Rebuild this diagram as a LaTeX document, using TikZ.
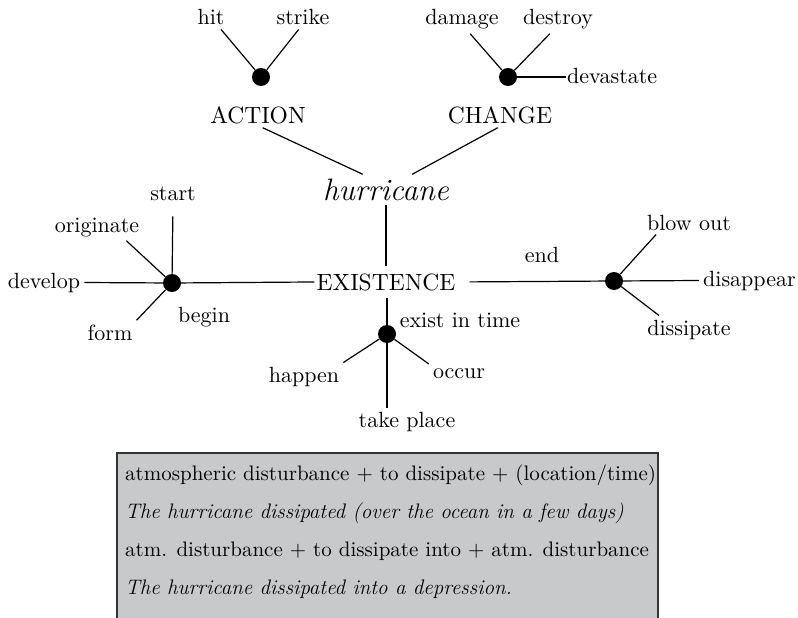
\documentclass[tikz,border=0pt]{standalone}
\usepackage{fontspec}
\setmainfont{lmroman10-regular.otf}[ItalicFont=lmroman12-italic.otf]
\usepackage{xcolor}
\usepackage{tikz}
\definecolor{boxgray}{RGB}{200,201,203}

\tikzset{
  word/.style={font=\fontsize{22}{26}\selectfont, inner sep=4pt, anchor=base},
  sensebox/.style={font=\fontsize{23.5}{28}\selectfont, inner sep=4pt, anchor=base},
  hub/.style={circle, fill=black, inner sep=0pt, minimum size=18pt},
  link/.style={line width=1.2pt},
  boxline/.style={font=\fontsize{21}{25}\selectfont, anchor=base west, inner sep=0pt},
  boxitalic/.style={font=\fontsize{21}{25}\selectfont\itshape, anchor=base west, inner sep=0pt},
}

\begin{document}
\begin{tikzpicture}[x=1pt, y=-1pt]
\useasboundingbox (0,0) rectangle (798,618);
% example box
\fill[boxgray] (117,453) rectangle (658,625);
\draw[line width=1.3pt, black!80] (117,625) -- (117,453) -- (658,453) -- (658,625);
\node[boxline] (rule1) at (125,480) {atmospheric disturbance + to dissipate + (location/time)};
\node[boxitalic] (ex1) at (125,518) {The hurricane dissipated (over the ocean in a few days)};
\node[boxline] (rule2) at (125,556) {atm. disturbance + to dissipate into + atm. disturbance};
\node[boxitalic] (ex2) at (125,594) {The hurricane dissipated into a depression.};

% hubs
\node[hub] (actdot) at (261,77) {};
\node[hub] (chdot) at (508,77) {};
\node[hub] (begdot) at (172,283) {};
\node[hub] (exdot) at (387,334) {};
\node[hub] (enddot) at (614,281) {};

% words
\node[word] (hit) at (211,25) {hit};
\node[word] (strike) at (303,25) {strike};
\node[word] (damage) at (462,25) {damage};
\node[word] (destroy) at (558,25) {destroy};
\node[word, anchor=base west, inner xsep=1pt] (devastate) at (566,84) {devastate};
\node[sensebox] (action) at (258,123) {ACTION};
\node[sensebox] (change) at (500,123) {CHANGE};
\node[font=\fontsize{31}{35}\selectfont\itshape, inner sep=4pt, anchor=base] (hurricane) at (386,200) {hurricane};
\node[sensebox, inner xsep=2pt, inner ysep=7pt] (existence) at (386,290) {EXISTENCE};
\node[word] (start) at (173,200) {start};
\node[word] (originate) at (97,232) {originate};
\node[word] (develop) at (44,288) {develop};
\node[word] (form) at (110,340) {form};
\node[word] (beginlbl) at (204,322) {begin};
\node[word] (endlbl) at (542,262) {end};
\node[word] (blowout) at (689,230) {blow out};
\node[word, anchor=base west] (disappear) at (699,286) {disappear};
\node[word] (dissipate) at (689,335) {dissipate};
\node[word] (existlbl) at (460,327) {exist in time};
\node[word] (occur) at (459,378) {occur};
\node[word] (happen) at (304,382) {happen};
\node[word] (takeplace) at (407,427) {take place};

% links
\draw[link] (actdot) -- (hit.-50);
\draw[link] (actdot) -- (strike.-110);
\draw[link] (chdot) -- (damage.-60);
\draw[link] (chdot) -- (destroy.-120);
\draw[link] (chdot) -- (chdot -| devastate.west);
\draw[link] (action.-70) -- (hurricane.147);
\draw[link] (change.-100) -- (hurricane.30);
\draw[link] (hurricane.south) -- (existence.north);
\draw[link] (begdot) -- (existence.west);
\draw[link, shorten <=12pt] (existence.east) -- (enddot);
\draw[link] (exdot |- existence.south) -- (exdot);
\draw[link, shorten >=12pt] (begdot) -- (start.south);
\draw[link] (begdot) -- (originate.-25);
\draw[link] (begdot) -- (develop.east);
\draw[link] (begdot) -- (form.north east);
\draw[link] (exdot) -- (happen.north east);
\draw[link] (exdot) -- (exdot |- takeplace.north);
\draw[link] (exdot) -- (occur.north west);
\draw[link] (enddot) -- (blowout.-160);
\draw[link] (enddot) -- (disappear.west);
\draw[link] (enddot) -- (dissipate.155);
\end{tikzpicture}
\end{document}
